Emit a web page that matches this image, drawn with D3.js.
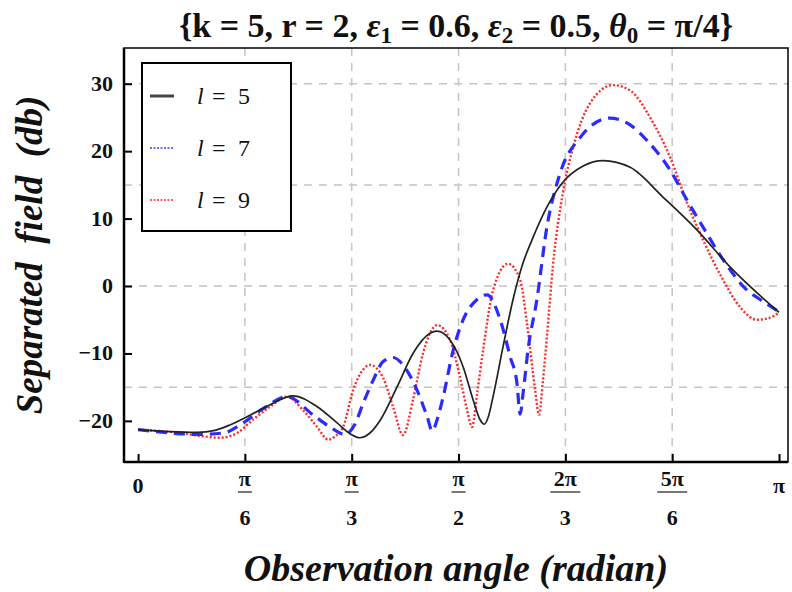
<!DOCTYPE html>
<html>
<head>
<meta charset="utf-8">
<script src="https://cdn.jsdelivr.net/npm/d3@7"></script>
<style>
  body { margin: 0; background: #fff; }
  svg text { font-family: "Liberation Serif", "DejaVu Serif", serif; }
</style>
</head>
<body>
<div id="chart"></div>
<script>
// angles in degrees, values in db
const angles5 = [0, 9, 16.6, 21.6, 25.8, 30.6, 37.1, 43.5, 50.3, 55.9, 59.5, 62.3, 65.1, 68, 72.7, 77.2, 82, 83.9, 87.6, 91.3, 94.1, 96, 97.2, 98.3, 99.7, 102.5, 105.3, 108.1, 110.6, 114.8, 119.3, 125, 130.6, 138.2, 147.4, 157, 166.3, 180];
const field5 = [-21.3, -21.6, -21.7, -21.4, -20.6, -19.4, -17.6, -16.3, -17.9, -20.3, -21.9, -22.5, -21.8, -19.9, -15, -10, -7, -6.7, -8, -12, -16.9, -19.8, -20.5, -19.5, -16.4, -9, -2, 3.4, 6.8, 11.7, 15.4, 17.8, 18.6, 17.6, 13.2, 8.3, 2.8, -3.9];

const angles7 = [0, 9, 16.6, 23.9, 29.5, 35.1, 41.8, 49.1, 53.9, 58.1, 60.9, 63.2, 66, 68.8, 71.6, 74.4, 78.3, 81.2, 82.6, 84, 85.7, 88.5, 91.3, 95.2, 98, 101.7, 104.5, 106.4, 107.3, 108.1, 109.5, 112, 114.8, 118.5, 124.1, 132.5, 138.2, 142.9, 149.4, 154.2, 158.7, 164.3, 171, 174.7, 180];
const field7 = [-21.3, -21.8, -22, -21.8, -20.3, -18.2, -16.4, -19.1, -20.9, -22, -20.5, -17.4, -14, -11.2, -10.6, -11.7, -15.4, -19.4, -21.5, -19.8, -16.4, -9.5, -5, -2, -1.3, -5, -10.5, -14.4, -19, -16, -9.5, -2, 8.7, 16.7, 22, 24.9, 23.9, 21.6, 17.2, 12.7, 8.7, 3.9, -0.6, -2, -3.8];

const angles9 = [0, 11.8, 18.3, 23, 27.8, 32.3, 37.1, 41.8, 46.3, 50.3, 53.4, 55.3, 57.6, 60.4, 63.2, 65.1, 68.8, 71.6, 74.4, 77.2, 80, 84, 87.6, 90.4, 92.4, 93.8, 95.2, 96.9, 99.7, 103.9, 107.3, 109.2, 111.5, 112.6, 113.7, 114.9, 116.5, 119.3, 122.2, 126.9, 133.4, 138.2, 143.8, 149.4, 154.2, 158.7, 164.3, 169, 173.8, 177.5, 180];
const field9 = [-21.3, -21.8, -22.3, -22.5, -21.8, -19.8, -17.9, -16.4, -18.4, -20.9, -22.8, -22.3, -20.9, -15.4, -12.4, -11.7, -13.6, -17.9, -22.1, -16.9, -10, -5.8, -8, -13.5, -18.4, -20.9, -16, -9.5, -0.6, 3.3, 0.9, -5.5, -15.4, -19.1, -14, -7, 3, 13.8, 20.6, 27.1, 29.8, 29, 25, 19.1, 12.3, 6.8, 0.9, -3.1, -5, -4.7, -3.9];

const seriesNames = ["5", "7", "9"];
const yTicks = [-20, -10, 0, 10, 20, 30];
const yGrid = [-15, 0, 15, 30];
const xTicks = [0, Math.PI / 6, Math.PI / 3, Math.PI / 2, 2 * Math.PI / 3, 5 * Math.PI / 6, Math.PI];
const xTickNum = ["0", "π", "π", "π", "2π", "5π", "π"];
const xTickDen = ["", "6", "3", "2", "3", "6", ""];

const width = 792, height = 592;
const plot = { left: 124, right: 788, top: 48, bottom: 462 };

const svg = d3.select("#chart").append("svg")
  .attr("width", width)
  .attr("height", height);

const xScale = d3.scaleLinear().domain([-0.069, Math.PI + 0.044]).range([plot.left, plot.right]);
const yScale = d3.scaleLinear().domain([-26.1, 35.3]).range([plot.bottom, plot.top]);

// title
const title = svg.append("text")
  .attr("x", 456).attr("y", 37)
  .attr("text-anchor", "middle")
  .attr("font-size", 34)
  .attr("font-weight", "bold")
  .attr("fill", "#111");
title.append("tspan").text("{k = 5, r = 2, ");
title.append("tspan").attr("font-style", "italic").text("ε");
title.append("tspan").attr("font-size", 23).attr("dy", 6).text("1");
title.append("tspan").attr("dy", -6).text(" = 0.6, ");
title.append("tspan").attr("font-style", "italic").text("ε");
title.append("tspan").attr("font-size", 23).attr("dy", 6).text("2");
title.append("tspan").attr("dy", -6).text(" = 0.5, ");
title.append("tspan").attr("font-style", "italic").text("θ");
title.append("tspan").attr("font-size", 23).attr("dy", 6).text("0");
title.append("tspan").attr("dy", -6).text(" = π/4}");

// grid
const grid = svg.append("g").attr("class", "grid")
  .attr("stroke", "#c4c4c4")
  .attr("stroke-width", 1.5)
  .attr("stroke-dasharray", "8,7");
grid.selectAll("line.v")
  .data(xTicks.slice(1, 6))
  .enter().append("line")
  .attr("x1", d => xScale(d)).attr("x2", d => xScale(d))
  .attr("y1", plot.top).attr("y2", plot.bottom);
grid.selectAll("line.h")
  .data(yGrid)
  .enter().append("line")
  .attr("x1", plot.left).attr("x2", plot.right)
  .attr("y1", d => yScale(d)).attr("y2", d => yScale(d));

// curves
const toPoints = (angles, vals) => angles.map((a, i) => ({ t: a * Math.PI / 180, v: vals[i] }));
const series = [
  { pts: toPoints(angles5, field5), color: "#222", width: 1.7, dash: null },
  { pts: toPoints(angles7, field7), color: "#2b2bff", width: 3.2, dash: "11,7" },
  { pts: toPoints(angles9, field9), color: "#ff2a2a", width: 2.4, dash: "2,2" }
];

svg.append("clipPath").attr("id", "plotClip")
  .append("rect").attr("x", plot.left).attr("y", plot.top)
  .attr("width", plot.right - plot.left).attr("height", plot.bottom - plot.top);

const line = d3.line()
  .x(d => xScale(d.t))
  .y(d => yScale(d.v))
  .curve(d3.curveMonotoneX);

const curves = svg.append("g").attr("clip-path", "url(#plotClip)");
// red and blue first, black on top
[series[2], series[1], series[0]].forEach(s => {
  curves.append("path")
    .attr("d", line(s.pts))
    .attr("fill", "none")
    .attr("stroke", s.color)
    .attr("stroke-width", s.width)
    .attr("stroke-dasharray", s.dash);
});

// axes
const yAxis = svg.append("g")
  .attr("transform", "translate(" + plot.left + ",0)")
  .call(d3.axisRight(yScale).tickValues(yTicks).tickSize(8).tickFormat(""));
yAxis.select(".domain").remove();
yAxis.selectAll("line").attr("stroke", "#000").attr("stroke-width", 2);

svg.append("g").selectAll("text")
  .data(yTicks)
  .enter().append("text")
  .attr("x", 113)
  .attr("y", d => yScale(d) + 7)
  .attr("text-anchor", "end")
  .attr("font-size", 22)
  .attr("font-weight", "bold")
  .attr("fill", "#111")
  .text(d => d < 0 ? "\u2212" + Math.abs(d) : d);

const xAxis = svg.append("g")
  .attr("transform", "translate(0," + plot.bottom + ")")
  .call(d3.axisTop(xScale).tickValues(xTicks).tickSize(8).tickFormat(""));
xAxis.select(".domain").remove();
xAxis.selectAll("line").attr("stroke", "#000").attr("stroke-width", 2);

const xLabels = svg.append("g");
xTicks.forEach((t, i) => {
  const cx = xScale(t);
  const isFrac = xTickDen[i] !== "";
  xLabels.append("text")
    .attr("x", cx).attr("y", isFrac ? 486 : 493)
    .attr("text-anchor", "middle")
    .attr("font-size", 22)
    .attr("font-weight", "bold")
    .attr("fill", "#111")
    .text(xTickNum[i]);
  if (isFrac) {
    const w = xTickNum[i].length > 1 ? 30 : 14;
    xLabels.append("line")
      .attr("x1", cx - w / 2).attr("x2", cx + w / 2)
      .attr("y1", 492).attr("y2", 492)
      .attr("stroke", "#777").attr("stroke-width", 2);
    xLabels.append("text")
      .attr("x", cx).attr("y", 525)
      .attr("text-anchor", "middle")
      .attr("font-size", 22)
      .attr("font-weight", "bold")
      .attr("fill", "#111")
      .text(xTickDen[i]);
  }
});

// frame
svg.append("rect")
  .attr("x", plot.left).attr("y", plot.top)
  .attr("width", plot.right - plot.left).attr("height", plot.bottom - plot.top)
  .attr("fill", "none")
  .attr("stroke", "#000")
  .attr("stroke-width", 1.5);
svg.append("line").attr("x1", plot.left).attr("x2", plot.left).attr("y1", plot.top).attr("y2", plot.bottom + 1)
  .attr("stroke", "#000").attr("stroke-width", 2.5);
svg.append("line").attr("x1", plot.left).attr("x2", plot.right).attr("y1", plot.bottom).attr("y2", plot.bottom)
  .attr("stroke", "#000").attr("stroke-width", 2.5);

// axis labels
svg.append("text")
  .attr("transform", "translate(42,255) rotate(-90)")
  .attr("text-anchor", "middle")
  .attr("font-size", 37)
  .attr("font-weight", "bold")
  .attr("font-style", "italic")
  .attr("fill", "#111")
  .attr("xml:space", "preserve")
  .text("Separated  field  (db)");

svg.append("text")
  .attr("x", 456).attr("y", 581)
  .attr("text-anchor", "middle")
  .attr("font-size", 38)
  .attr("font-weight", "bold")
  .attr("font-style", "italic")
  .attr("fill", "#111")
  .text("Observation angle (radian)");

// legend
const legend = svg.append("g");
legend.append("rect")
  .attr("x", 142).attr("y", 63)
  .attr("width", 149).attr("height", 168)
  .attr("fill", "#fff")
  .attr("stroke", "#000")
  .attr("stroke-width", 2);
const legendY = [96, 148, 200];
const legendStyles = [
  { color: "#444", width: 3, dash: null },
  { color: "#3a3aff", width: 1.6, dash: "2,1.5" },
  { color: "#ff2a2a", width: 1.6, dash: "2,1.5" }
];
seriesNames.forEach((n, i) => {
  legend.append("line")
    .attr("x1", 150).attr("x2", 174)
    .attr("y1", legendY[i]).attr("y2", legendY[i])
    .attr("stroke", legendStyles[i].color)
    .attr("stroke-width", legendStyles[i].width)
    .attr("stroke-dasharray", legendStyles[i].dash);
  const t = legend.append("text")
    .attr("y", legendY[i] + 8)
    .attr("font-size", 24)
    .attr("fill", "#111");
  t.append("tspan").attr("x", 197).attr("font-style", "italic").text("l");
  t.append("tspan").attr("x", 212).text("=");
  t.append("tspan").attr("x", 238).text(n);
});
</script>
</body>
</html>
